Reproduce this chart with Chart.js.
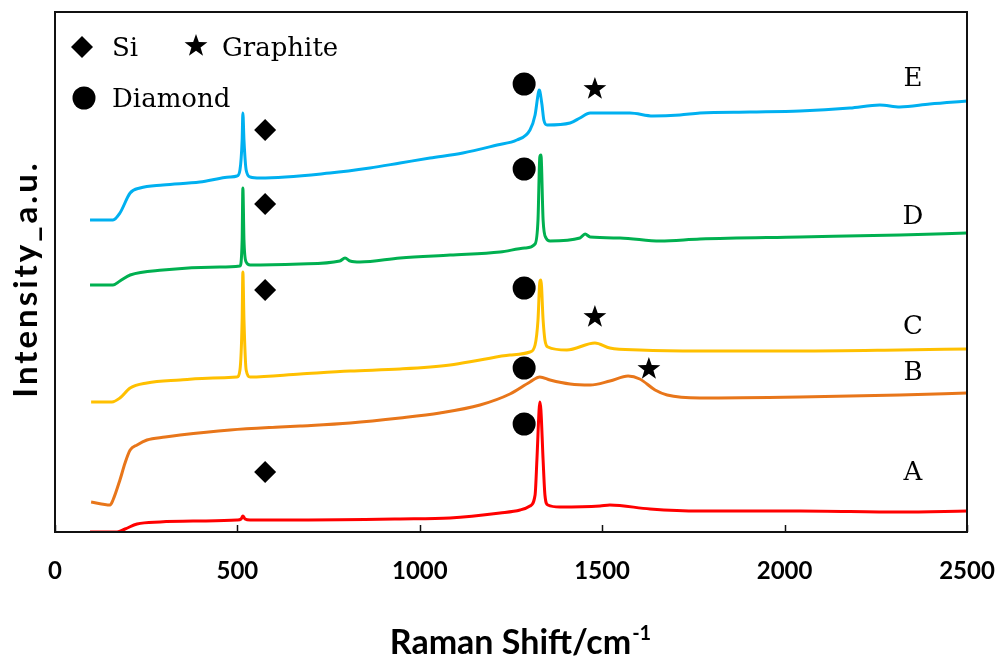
<!DOCTYPE html>
<html>
<head>
<meta charset="utf-8">
<script src="https://cdn.jsdelivr.net/npm/chart.js@4.4.1/dist/chart.umd.min.js"></script>
<style>
  html, body { margin: 0; padding: 0; background: #fff; }
  #wrap { width: 999px; height: 660px; }
</style>
</head>
<body>
<div id="wrap"><canvas id="raman"></canvas></div>
<script>
// Raman spectra A-E, stacked with an offset (arbitrary units)
const shiftA = [96, 170, 192, 225, 288, 397, 499, 510, 515, 521, 535, 672, 946, 1083, 1220, 1275, 1302, 1316, 1321, 1327, 1329, 1332, 1338, 1343, 1351, 1384, 1494, 1521, 1631, 1768, 2042, 2316, 2500];
const intensityA = [0, 0, 3, 8, 10, 11, 12, 13, 16, 13, 12, 12, 13, 14, 19, 22, 26, 37, 72, 122, 130, 122, 72, 37, 27, 25, 26, 27, 23, 21, 21, 20, 21];

const shiftB = [99, 151, 159, 178, 192, 206, 225, 252, 302, 343, 480, 617, 672, 809, 946, 1055, 1165, 1247, 1302, 1329, 1357, 1412, 1467, 1521, 1571, 1603, 1645, 1678, 1768, 2042, 2316, 2500];
const intensityB = [30, 27, 32, 52, 69, 82, 87, 92, 95, 97, 102, 105, 106, 109, 114, 119, 127, 138, 150, 155, 152, 148, 147, 151, 156, 153, 142, 137, 134, 135, 137, 139];

const shiftC = [99, 156, 178, 206, 252, 343, 433, 499, 507, 513, 515, 518, 524, 535, 672, 809, 946, 1083, 1165, 1247, 1302, 1316, 1324, 1329, 1332, 1338, 1343, 1351, 1403, 1480, 1521, 1603, 1768, 2042, 2316, 2500];
const intensityC = [130, 130, 134, 144, 149, 152, 154, 155, 162, 212, 260, 212, 162, 155, 158, 161, 163, 167, 172, 177, 180, 187, 212, 250, 252, 212, 192, 185, 182, 189, 184, 182, 181, 181, 182, 183];

const shiftD = [96, 159, 178, 206, 296, 452, 507, 513, 515, 518, 524, 535, 672, 781, 795, 809, 836, 946, 1083, 1220, 1288, 1316, 1324, 1329, 1332, 1338, 1346, 1357, 1439, 1453, 1467, 1549, 1659, 1768, 2042, 2316, 2500];
const intensityD = [247, 247, 251, 257, 262, 265, 266, 292, 344, 292, 270, 267, 268, 271, 274, 271, 270, 274, 277, 280, 284, 288, 312, 375, 377, 312, 294, 291, 294, 298, 295, 294, 291, 293, 295, 297, 299];

const shiftE = [96, 159, 178, 206, 233, 296, 397, 480, 499, 507, 513, 515, 518, 524, 535, 562, 754, 863, 946, 1028, 1118, 1212, 1266, 1302, 1316, 1324, 1327, 1329, 1335, 1340, 1349, 1412, 1439, 1467, 1576, 1639, 1713, 1768, 1905, 2042, 2179, 2261, 2316, 2398, 2500];
const intensityE = [312, 312, 319, 339, 344, 347, 350, 355, 356, 362, 392, 419, 392, 362, 355, 354, 359, 364, 369, 374, 379, 387, 392, 402, 417, 437, 442, 441, 427, 412, 407, 409, 414, 419, 419, 416, 417, 419, 420, 421, 424, 427, 425, 428, 431];

const sampleLabels = ['A', 'B', 'C', 'D', 'E'];
const sampleColors = ['#ff0000', '#e8761a', '#ffc000', '#00b050', '#00b0f0'];

// peak markers: [shift, intensity]
const siMarks = [[576, 402], [576, 328], [576, 242], [576, 60]];
const diamondMarks = [[1286, 448], [1286, 363], [1286, 244], [1286, 164], [1286, 108]];
const graphiteMarks = [[1480, 443], [1480, 215], [1628, 163]];
// sample letters at the right end
const letterPos = [[2352, 59], [2352, 159], [2352, 205], [2352, 315], [2352, 453]];

const xTicks = [0, 500, 1000, 1500, 2000, 2500];

const series = [[shiftA, intensityA], [shiftB, intensityB], [shiftC, intensityC], [shiftD, intensityD], [shiftE, intensityE]];

const datasets = series.map(([sx, sy], i) => ({
  label: sampleLabels[i],
  data: sx.map((x, k) => ({ x: x, y: sy[k] })),
  borderColor: sampleColors[i],
  borderWidth: 3,
  pointRadius: 0,
  fill: false,
  cubicInterpolationMode: 'monotone'
}));

function diamondPath(ctx, x, y, r) {
  ctx.beginPath();
  ctx.moveTo(x, y - r);
  ctx.lineTo(x + r, y);
  ctx.lineTo(x, y + r);
  ctx.lineTo(x - r, y);
  ctx.closePath();
  ctx.fill();
}
function circlePath(ctx, x, y, r) {
  ctx.beginPath();
  ctx.arc(x, y, r, 0, Math.PI * 2);
  ctx.fill();
}
function starPath(ctx, x, y, r) {
  ctx.beginPath();
  for (let i = 0; i < 10; i++) {
    const rr = i % 2 === 0 ? r : r * 0.4;
    const a = -Math.PI / 2 + i * Math.PI / 5;
    const px = x + rr * Math.cos(a), py = y + rr * Math.sin(a);
    if (i === 0) ctx.moveTo(px, py); else ctx.lineTo(px, py);
  }
  ctx.closePath();
  ctx.fill();
}

const decorations = {
  id: 'decorations',
  afterDraw(chart) {
    const { ctx, chartArea: a, scales: { x, y } } = chart;
    ctx.save();
    ctx.fillStyle = '#000';
    ctx.strokeStyle = '#111';

    // frame
    ctx.lineWidth = 2;
    ctx.strokeRect(a.left, a.top, a.right - a.left, a.bottom - a.top);

    // inward tick marks
    ctx.lineWidth = 1.5;
    xTicks.forEach(v => {
      const px = Math.round(x.getPixelForValue(v)) + 0.5;
      ctx.beginPath();
      ctx.moveTo(px, a.bottom);
      ctx.lineTo(px, a.bottom - 7);
      ctx.stroke();
    });

    // peak markers
    siMarks.forEach(([sx, sy]) => diamondPath(ctx, x.getPixelForValue(sx), y.getPixelForValue(sy), 11));
    diamondMarks.forEach(([sx, sy]) => circlePath(ctx, x.getPixelForValue(sx), y.getPixelForValue(sy), 11.5));
    graphiteMarks.forEach(([sx, sy]) => starPath(ctx, x.getPixelForValue(sx), y.getPixelForValue(sy), 12));

    // sample letters
    ctx.font = '26px "DejaVu Serif"';
    ctx.textAlign = 'center';
    ctx.textBaseline = 'middle';
    letterPos.forEach(([sx, sy], i) => {
      ctx.fillText(sampleLabels[i], x.getPixelForValue(sx), y.getPixelForValue(sy));
    });

    // key
    ctx.textAlign = 'left';
    ctx.textBaseline = 'alphabetic';
    diamondPath(ctx, 82, 47, 11);
    ctx.fillText('Si', 112, 56);
    starPath(ctx, 196, 46, 12);
    ctx.fillText('Graphite', 222, 56);
    circlePath(ctx, 84, 98, 11.5);
    ctx.fillText('Diamond', 112, 107);

    // axis titles
    const main = 'Raman Shift/cm';
    ctx.font = 'bold 34px Lato';
    const w1 = ctx.measureText(main).width;
    ctx.font = 'bold 20px Lato';
    const w2 = ctx.measureText('-1').width;
    const sx0 = 520 - (w1 + w2) / 2;
    ctx.font = 'bold 34px Lato';
    ctx.fillText(main, sx0, 654);
    ctx.font = 'bold 20px Lato';
    ctx.fillText('-1', sx0 + w1 + 1, 640);

    ctx.translate(37, 279);
    ctx.rotate(-Math.PI / 2);
    ctx.textAlign = 'center';
    ctx.font = 'bold 33px Lato';
    ctx.letterSpacing = '3px';
    ctx.fillText('Intensity_a.u.', 0, 0);
    ctx.restore();
  }
};

new Chart(document.getElementById('raman'), {
  type: 'line',
  data: { datasets: datasets },
  options: {
    responsive: true,
    maintainAspectRatio: false,
    animation: false,
    layout: { padding: { left: 55, right: 32, top: 12, bottom: 0 } },
    plugins: { legend: { display: false }, tooltip: { enabled: false } },
    scales: {
      x: {
        type: 'linear',
        min: 0,
        max: 2500,
        afterFit: s => { s.height = 128; s.paddingLeft = 0; s.paddingRight = 0; },
        afterBuildTicks: s => { s.ticks = xTicks.map(v => ({ value: v })); },
        grid: { display: false, drawTicks: false },
        border: { display: false },
        ticks: {
          autoSkip: false,
          maxRotation: 0,
          padding: 25,
          color: '#000',
          font: { family: 'Lato', weight: 'bold', size: 24 },
          callback: v => String(v)
        }
      },
      y: {
        display: false,
        min: 0,
        max: 520
      }
    }
  },
  plugins: [decorations]
});
</script>
</body>
</html>
